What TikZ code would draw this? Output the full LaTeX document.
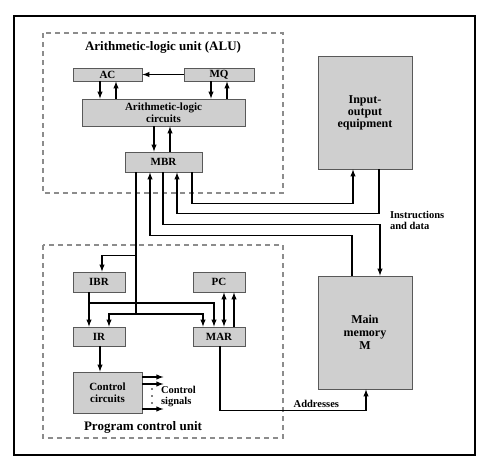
\documentclass[tikz,border=0pt]{standalone}
\usepackage{fontspec}
\setmainfont{Liberation Serif}
\usetikzlibrary{positioning}

\begin{document}
\begin{tikzpicture}
  [x=1pt,y=-1pt,>=latex,line width=1.4pt,
   every node/.style={font=\bfseries\fontsize{11}{12}\selectfont},
   reg/.style={draw=black!65,line width=0.8pt,fill=black!19,inner sep=0pt,align=center},
   unitbox/.style={draw=black!45,line width=1.1pt,dash pattern=on 5pt off 4pt},
   title/.style={font=\bfseries\fontsize{13}{14}\selectfont}]
  \useasboundingbox (0,0) rectangle (483,461);
  \draw[line width=1.4pt] (14,16) rectangle (475,455);
  % the two units
  \draw[unitbox] (43,33) rectangle (283,193);
  \draw[unitbox] (43,245) rectangle (283,438);
  \node[title] (alutitle) at (163,47) {Arithmetic-logic unit (ALU)};
  \node[title] (pcutitle) at (143,427) {Program control unit};
  % registers and blocks
  \node[reg,minimum width=69pt,minimum height=13pt] (ac) at (107.5,74.5) {AC};
  \node[reg,minimum width=70pt,minimum height=13pt] (mq) at (219,74.5) {MQ};
  \node[reg,minimum width=163pt,minimum height=27pt] (alc) at (163.5,112.5) {Arithmetic-logic\\circuits};
  \node[reg,minimum width=77pt,minimum height=20pt] (mbr) at (163.5,162) {MBR};
  \node[reg,minimum width=52pt,minimum height=20pt] (ibr) at (99,282) {IBR};
  \node[reg,minimum width=52pt,minimum height=20pt] (pc) at (219,282) {PC};
  \node[reg,minimum width=52pt,minimum height=19pt] (ir) at (99,336.5) {IR};
  \node[reg,minimum width=52pt,minimum height=19pt] (mar) at (219,336.5) {MAR};
  \node[reg,minimum width=69pt,minimum height=41pt] (cc) at (107.5,392.5) {Control\\circuits};
  \node[reg,minimum width=94pt,minimum height=113pt,font=\bfseries\fontsize{12}{12}\selectfont] (io) at (365,112.5) {Input-\\output\\equipment};
  \node[reg,minimum width=94pt,minimum height=113pt,font=\bfseries\fontsize{12}{13}\selectfont] (mem) at (365,332.5) {Main\\memory\\M};
  % straight transfers
  \draw[->] (mq) -- (ac);
  \foreach \from/\to/\x in {ac.south/alc.north/100,alc.north/ac.south/116,
      mq.south/alc.north/211,alc.north/mq.south/227,alc.south/mbr.north/154,
      mbr.north/alc.south/170,ibr.south/ir.north/89,ir.south/cc.north/100,
      mar.north/pc.south/234}
    \draw[->] (\from -| \x,0) -- (\to -| \x,0);
  \draw[<->] (mar.north -| 224,0) -- (pc.south -| 224,0);
  % buses
  \draw[->] (mbr.south -| 192,0) -- ++(0,31) -| (io.south -| 353,0);
  \draw[->] (io.south -| 379,0) -- ++(0,44) -| (mbr.south -| 177,0);
  \draw[->] (mbr.south -| 163,0) -- ++(0,52) -| (mem.north -| 380,0);
  \draw[->] (mem.north -| 352,0) -- ++(0,-40) -| (mbr.south -| 150,0);
  \draw[->] (mbr.south -| 136,0) -- ++(0,83) -| (ibr.north -| 102,0);
  \coordinate (split) at (136,314);
  \coordinate (ibrsplit) at (89,303);
  \draw (mbr.south -| 136,0) -- (split);
  \draw[->] (split) -| (ir.north -| 109,0);
  \draw[->] (split) -| (mar.north -| 203,0);
  \draw[->] (ibrsplit) -| (mar.north -| 214,0);
  \draw[->] (mar.south -| 220,0) -- ++(0,64)
    -| node[pos=.33,above=-1pt,font=\bfseries\fontsize{10.5}{12}\selectfont] (addr) {Addresses} (mem.south -| 366,0);
  \node[anchor=west,align=left,font=\bfseries\fontsize{10.5}{11}\selectfont] (instr) at (386,220) {Instructions\\and data};
  % control signals
  \foreach \y in {377,384,409}
    \draw[->] (cc.east |- 0,\y) -- ++(21,0);
  \foreach \y in {389,396,403}
    \fill (152,\y) circle (0.9pt);
  \node[anchor=west,align=left,font=\bfseries\fontsize{10.5}{11}\selectfont] (sig) at (157,397) {Control\\signals};
\end{tikzpicture}
\end{document}
